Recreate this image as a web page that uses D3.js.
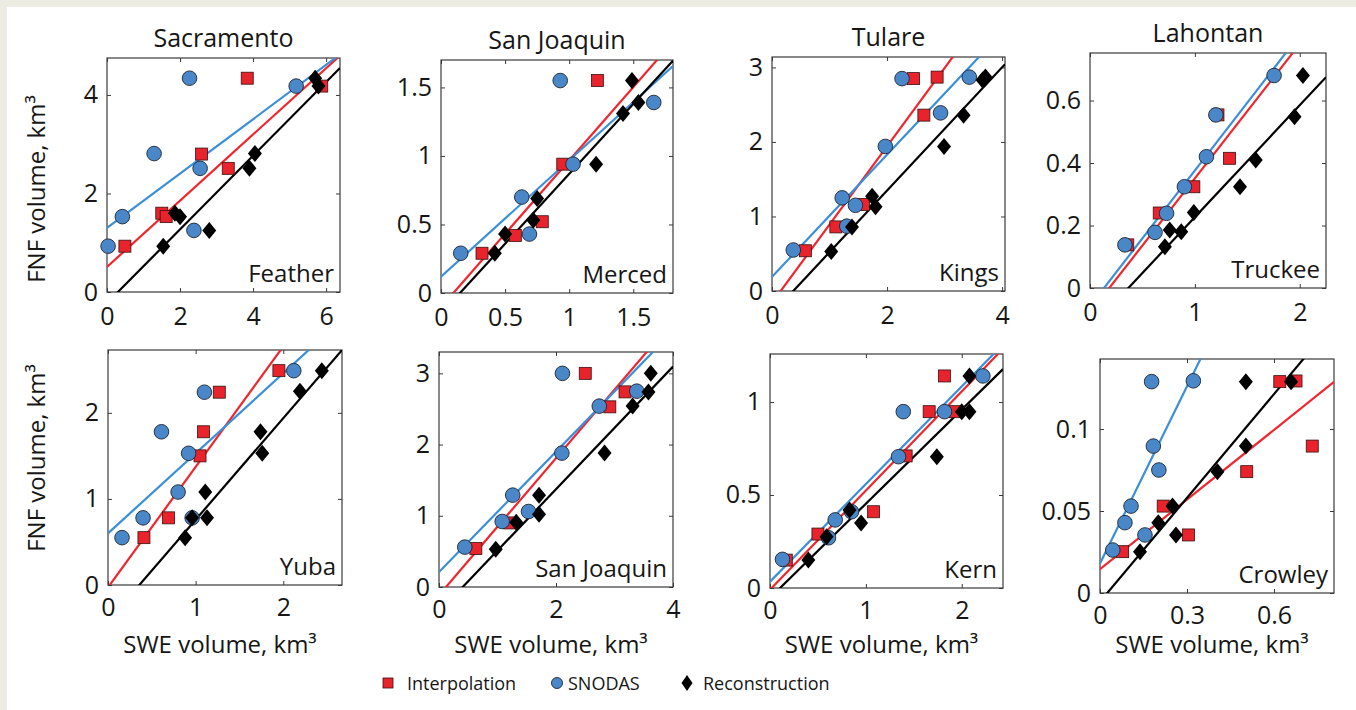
<!DOCTYPE html>
<html>
<head>
<meta charset="utf-8">
<script src="https://cdn.jsdelivr.net/npm/d3@7"></script>
<style>
  html, body { margin: 0; padding: 0; background: #ffffff; }
  svg { display: block; }
  text { font-family: "Open Sans", sans-serif; fill: #161616; }
</style>
</head>
<body>
<svg id="chart" width="1356" height="710"></svg>
<script>
// ---- Data -----------------------------------------------------------------
const regionTitles = ["Sacramento", "San Joaquin", "Tulare", "Lahontan"];
const basinNames = ["Feather", "Merced", "Kings", "Truckee", "Yuba", "San Joaquin", "Kern", "Crowley"];
const seriesNames = ["Interpolation", "SNODAS", "Reconstruction"];

// Axis extents and tick labels (SWE on x, FNF on y), km^3
const xMax = [6.38, 1.81, 4.05, 2.25, 2.67, 4.0, 2.43, 0.807];
const yMax = [4.75, 1.70, 3.14, 0.752, 2.73, 3.30, 1.258, 0.1427];
const xTickValues = [[0, 2, 4, 6], [0, 0.5, 1, 1.5], [0, 2, 4], [0, 1, 2], [0, 1, 2], [0, 2, 4], [0, 1, 2], [0, 0.3, 0.6]];
const yTickValues = [[0, 2, 4], [0, 0.5, 1, 1.5], [0, 1, 2, 3], [0, 0.2, 0.4, 0.6], [0, 1, 2], [0, 1, 2, 3], [0, 0.5, 1], [0, 0.05, 0.1]];

// [SWE volume, FNF volume] per year
const featherInterp = [[0.49, 0.93], [1.50, 1.60], [1.62, 1.53], [2.59, 2.80], [3.32, 2.51], [3.84, 4.34], [5.88, 4.18]];
const featherSnodas = [[0.03, 0.93], [0.42, 1.53], [1.29, 2.81], [2.26, 4.34], [2.55, 2.51], [2.38, 1.25], [5.18, 4.18]];
const featherRecon  = [[1.54, 0.93], [1.86, 1.60], [2.00, 1.53], [2.80, 1.25], [3.90, 2.51], [4.05, 2.81], [5.70, 4.34], [5.79, 4.18]];

const mercedInterp = [[0.32, 0.29], [0.58, 0.42], [0.79, 0.52], [0.95, 0.94], [1.22, 1.55]];
const mercedSnodas = [[0.154, 0.29], [0.63, 0.70], [0.69, 0.43], [0.93, 1.55], [1.03, 0.94], [1.66, 1.39]];
const mercedRecon  = [[0.42, 0.29], [0.50, 0.43], [0.72, 0.53], [0.75, 0.69], [1.21, 0.94], [1.42, 1.31], [1.49, 1.55], [1.54, 1.39]];

const kingsInterp = [[0.58, 0.54], [1.11, 0.86], [1.59, 1.16], [2.46, 2.85], [2.64, 2.36], [2.87, 2.87]];
const kingsSnodas = [[0.37, 0.55], [1.30, 0.87], [1.22, 1.25], [1.45, 1.15], [1.97, 1.94], [2.26, 2.85], [2.93, 2.39], [3.43, 2.87]];
const kingsRecon  = [[1.03, 0.53], [1.39, 0.86], [1.74, 1.27], [1.80, 1.13], [2.99, 1.94], [3.33, 2.36], [3.66, 2.83], [3.71, 2.87]];

const truckeeInterp = [[0.36, 0.138], [0.66, 0.24], [0.99, 0.324], [1.22, 0.554], [1.33, 0.415]];
const truckeeSnodas = [[0.333, 0.138], [0.62, 0.178], [0.73, 0.239], [0.90, 0.324], [1.11, 0.42], [1.20, 0.554], [1.755, 0.68]];
const truckeeRecon  = [[0.714, 0.132], [0.76, 0.186], [0.87, 0.18], [0.99, 0.242], [1.43, 0.324], [1.58, 0.41], [1.95, 0.548], [2.03, 0.68]];

const yubaInterp = [[0.41, 0.55], [0.69, 0.78], [1.05, 1.50], [1.09, 1.78], [1.27, 2.24], [1.95, 2.49]];
const yubaSnodas = [[0.16, 0.55], [0.40, 0.78], [0.61, 1.78], [0.80, 1.08], [0.92, 1.53], [0.96, 0.78], [1.10, 2.24], [2.12, 2.49]];
const yubaRecon  = [[0.88, 0.55], [0.96, 0.78], [1.11, 1.08], [1.13, 0.78], [1.76, 1.53], [1.74, 1.78], [2.19, 2.25], [2.44, 2.49]];

const sanJoaquinInterp = [[0.63, 0.54], [1.21, 0.90], [2.50, 3.00], [2.92, 2.53], [3.18, 2.74]];
const sanJoaquinSnodas = [[0.44, 0.56], [1.08, 0.92], [1.26, 1.29], [1.53, 1.06], [2.10, 1.88], [2.11, 3.00], [2.74, 2.54], [3.38, 2.75]];
const sanJoaquinRecon  = [[0.97, 0.53], [1.32, 0.91], [1.71, 1.02], [1.71, 1.29], [2.83, 1.88], [3.31, 2.54], [3.58, 2.74], [3.62, 3.00]];

const kernInterp = [[0.17, 0.15], [0.50, 0.29], [1.08, 0.41], [1.42, 0.71], [1.66, 0.948], [1.82, 1.14], [1.93, 0.948]];
const kernSnodas = [[0.13, 0.154], [0.61, 0.27], [0.68, 0.366], [0.85, 0.41], [1.34, 0.706], [1.39, 0.948], [1.82, 0.948], [2.22, 1.14]];
const kernRecon  = [[0.40, 0.15], [0.59, 0.276], [0.83, 0.42], [0.95, 0.35], [1.74, 0.706], [2.00, 0.948], [2.08, 0.948], [2.08, 1.14]];

const crowleyInterp = [[0.078, 0.0252], [0.218, 0.053], [0.305, 0.0354], [0.506, 0.074], [0.62, 0.1289], [0.676, 0.1293], [0.732, 0.0896]];
const crowleySnodas = [[0.044, 0.0262], [0.086, 0.0429], [0.107, 0.053], [0.155, 0.0354], [0.178, 0.1289], [0.184, 0.0896], [0.203, 0.075], [0.322, 0.1294]];
const crowleyRecon  = [[0.138, 0.0252], [0.201, 0.0429], [0.25, 0.053], [0.262, 0.0354], [0.405, 0.074], [0.503, 0.0896], [0.503, 0.1289], [0.659, 0.1289]];

// Linear fits [slope, intercept] per basin
const fitInterp = [[0.672, 0.51], [1.07, -0.103], [1.05, -0.158], [0.43, -0.079], [1.40, -0.028], [0.962, -0.115], [0.533, -0.009], [0.1416, 0.0145]];
const fitSnodas = [[0.552, 1.30], [0.849, 0.119], [0.82, 0.19], [0.434, -0.058], [0.93, 0.60], [0.845, 0.21], [0.525, 0.034], [0.36, 0.018]];
const fitRecon  = [[0.748, -0.224], [1.02, -0.151], [0.827, -0.306], [0.358, -0.131], [1.18, -0.422], [0.861, -0.349], [0.506, -0.053], [0.211, -0.0053]];

const pointsInterp = [featherInterp, mercedInterp, kingsInterp, truckeeInterp, yubaInterp, sanJoaquinInterp, kernInterp, crowleyInterp];
const pointsSnodas = [featherSnodas, mercedSnodas, kingsSnodas, truckeeSnodas, yubaSnodas, sanJoaquinSnodas, kernSnodas, crowleySnodas];
const pointsRecon  = [featherRecon, mercedRecon, kingsRecon, truckeeRecon, yubaRecon, sanJoaquinRecon, kernRecon, crowleyRecon];

// ---- Layout ---------------------------------------------------------------
// plot box per panel: [left, top, width, height]
const boxes = [
  [107, 58, 233, 234], [441, 60, 232, 233], [772, 57, 233, 234], [1090, 53, 236, 235],
  [108, 350, 234, 235], [439, 352, 234, 235], [770, 354, 233, 234], [1100, 359, 234, 234]
];
const colors = {
  redFill: "#e8232c", redLine: "#f0262e",
  blueFill: "#4a87c9", blueLine: "#3b8fd8",
  black: "#000000", edge: "#1e2530", axis: "#3a3a3a"
};
const FONT_TICK = 25, FONT_TITLE = 25, FONT_BASIN = 24, FONT_LABEL = 24, FONT_LEGEND = 18;

const svg = d3.select("#chart");
svg.append("rect").attr("width", 1356).attr("height", 710).attr("fill", "#edece3");
svg.append("rect").attr("x", 7).attr("y", 7).attr("width", 1349).attr("height", 703).attr("fill", "#ffffff");

const defs = svg.append("defs");
const diamondPath = (w, h) => `M0,${-h}L${w},0L0,${h}L${-w},0Z`;

function styleAxis(sel, showLabels) {
  sel.select(".domain").remove();
  sel.selectAll(".tick line").attr("stroke", colors.axis).attr("stroke-width", 1);
  sel.selectAll(".tick text")
    .attr("font-family", "'Open Sans', sans-serif")
    .attr("font-size", FONT_TICK)
    .attr("fill", "#161616");
  if (!showLabels) sel.selectAll(".tick text").remove();
}

basinNames.forEach((name, i) => {
  const [bx, by, bw, bh] = boxes[i];
  const x = d3.scaleLinear().domain([0, xMax[i]]).range([bx, bx + bw]);
  const y = d3.scaleLinear().domain([0, yMax[i]]).range([by + bh, by]);
  const g = svg.append("g").attr("class", "panel");
  const bottomRow = i >= 4;

  defs.append("clipPath").attr("id", "clip" + i)
    .append("rect").attr("x", bx).attr("y", by).attr("width", bw).attr("height", bh);

  // axes with inward ticks on all four sides
  const fmt = d => String(d);
  g.append("g").attr("transform", `translate(0,${by + bh})`)
    .call(d3.axisBottom(x).tickValues(xTickValues[i]).tickFormat(fmt).tickSizeInner(-4).tickSizeOuter(0).tickPadding(bottomRow ? 13 : 15))
    .call(s => styleAxis(s, true));
  g.append("g").attr("transform", `translate(0,${by})`)
    .call(d3.axisTop(x).tickValues(xTickValues[i]).tickSizeInner(-4).tickSizeOuter(0))
    .call(s => styleAxis(s, false));
  g.append("g").attr("transform", `translate(${bx},0)`)
    .call(d3.axisLeft(y).tickValues(yTickValues[i]).tickFormat(fmt).tickSizeInner(-4).tickSizeOuter(0).tickPadding(9))
    .call(s => styleAxis(s, true));
  g.append("g").attr("transform", `translate(${bx + bw},0)`)
    .call(d3.axisRight(y).tickValues(yTickValues[i]).tickSizeInner(-4).tickSizeOuter(0))
    .call(s => styleAxis(s, false));

  // box outline
  g.append("rect").attr("x", x(0)).attr("y", y(yMax[i]))
    .attr("width", x(xMax[i]) - x(0)).attr("height", y(0) - y(yMax[i]))
    .attr("fill", "none").attr("stroke", colors.axis).attr("stroke-width", 1.2);

  // fitted lines
  const lineGen = d3.line().x(d => x(d[0])).y(d => y(d[1]));
  const fits = [[fitInterp[i], colors.redLine], [fitSnodas[i], colors.blueLine], [fitRecon[i], colors.black]];
  const lg = g.append("g").attr("clip-path", `url(#clip${i})`);
  fits.forEach(([f, c]) => {
    const pts = [0, xMax[i]].map(v => [v, f[0] * v + f[1]]);
    lg.append("path").attr("d", lineGen(pts)).attr("fill", "none")
      .attr("stroke", c).attr("stroke-width", 2.2);
  });

  // markers: squares, then circles, then diamonds on top
  const mg = g.append("g");
  mg.selectAll("rect.interp").data(pointsInterp[i]).join("rect").attr("class", "interp")
    .attr("x", d => x(d[0]) - 6).attr("y", d => y(d[1]) - 6)
    .attr("width", 12).attr("height", 12)
    .attr("fill", colors.redFill).attr("stroke", "#3a1010").attr("stroke-width", 0.8);
  mg.selectAll("circle.snodas").data(pointsSnodas[i]).join("circle").attr("class", "snodas")
    .attr("cx", d => x(d[0])).attr("cy", d => y(d[1])).attr("r", 7.3)
    .attr("fill", colors.blueFill).attr("stroke", colors.edge).attr("stroke-width", 0.9);
  mg.selectAll("path.recon").data(pointsRecon[i]).join("path").attr("class", "recon")
    .attr("transform", d => `translate(${x(d[0])},${y(d[1])})`)
    .attr("d", diamondPath(7, 8.5)).attr("fill", colors.black);

  // basin name inside the box
  g.append("text").attr("x", bx + bw - 6).attr("y", by + bh - 10)
    .attr("text-anchor", "end").attr("font-size", FONT_BASIN).text(name);

  // region titles on the top row
  if (!bottomRow) {
    g.append("text").attr("x", bx + bw / 2).attr("y", by - 11)
      .attr("text-anchor", "middle").attr("font-size", FONT_TITLE).text(regionTitles[i]);
  } else {
    // x-axis label on the bottom row
    g.append("text").attr("x", bx + bw / 2 - 5).attr("y", 653)
      .attr("text-anchor", "middle").attr("font-size", FONT_LABEL).text("SWE volume, km³");
  }
});

// y-axis labels
[189, 458].forEach(cy => {
  svg.append("text").attr("transform", `translate(45,${cy}) rotate(-90)`)
    .attr("text-anchor", "middle").attr("font-size", FONT_LABEL).text("FNF volume, km³");
});

// legend
const legend = svg.append("g").attr("class", "legend");
const legendItems = [
  { name: seriesNames[0], cx: 388, tx: 407 },
  { name: seriesNames[1], cx: 557, tx: 568 },
  { name: seriesNames[2], cx: 687, tx: 703 }
];
legendItems.forEach((it, k) => {
  const cy = 683;
  if (k === 0) {
    legend.append("rect").attr("x", it.cx - 5).attr("y", cy - 5).attr("width", 10).attr("height", 10)
      .attr("fill", colors.redFill).attr("stroke", "#3a1010").attr("stroke-width", 0.8);
  } else if (k === 1) {
    legend.append("circle").attr("cx", it.cx).attr("cy", cy).attr("r", 5.5)
      .attr("fill", colors.blueFill).attr("stroke", colors.edge).attr("stroke-width", 0.9);
  } else {
    legend.append("path").attr("transform", `translate(${it.cx},${cy})`)
      .attr("d", diamondPath(5.5, 8)).attr("fill", colors.black);
  }
  legend.append("text").attr("x", it.tx).attr("y", cy + 7)
    .attr("font-size", FONT_LEGEND).text(it.name);
});
</script>
</body>
</html>
